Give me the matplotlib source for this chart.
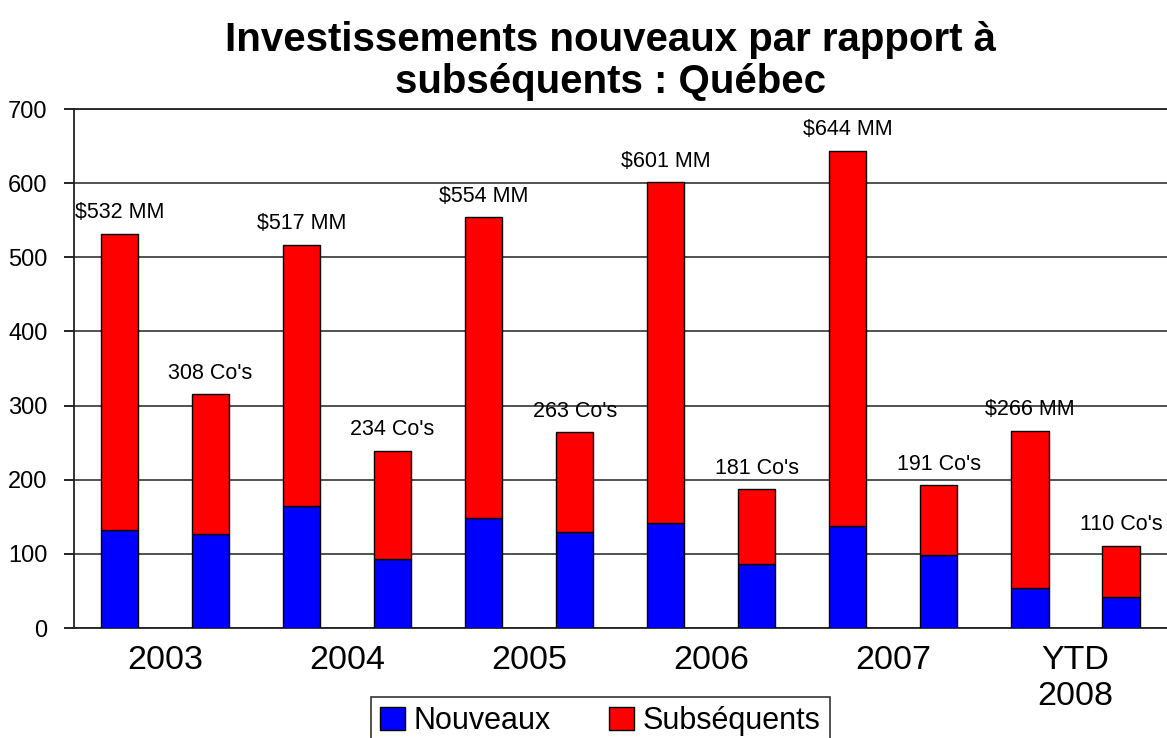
import matplotlib.pyplot as plt
import numpy as np

plt.rcParams['font.family'] = ['Liberation Sans', 'DejaVu Sans']

# one $ bar and one company-count bar per period
periods = ['2003', '2004', '2005', '2006', '2007', 'YTD\n2008']
nouveaux = [132, 127, 164, 93, 148, 129, 141, 86, 137, 98, 54, 42]
subsequents = [400, 188, 353, 146, 406, 135, 460, 101, 507, 95, 212, 69]
bar_labels = ['$532 MM', "308 Co's", '$517 MM', "234 Co's", '$554 MM', "263 Co's",
              '$601 MM', "181 Co's", '$644 MM', "191 Co's", '$266 MM', "110 Co's"]

fig = plt.figure(figsize=(11.67, 7.38), dpi=100)
ax = fig.add_axes([0.0634, 0.149, 0.94, 0.7033])

x = np.arange(len(nouveaux))
totals = np.array(nouveaux) + np.array(subsequents)

ax.bar(x, nouveaux, width=0.41, color='#0000ff', edgecolor='black', linewidth=1,
       label='Nouveaux', zorder=3)
ax.bar(x, subsequents, width=0.41, bottom=nouveaux, color='#ff0000', edgecolor='black',
       linewidth=1, label='Subséquents', zorder=3)

for xi, t, lab in zip(x, totals, bar_labels):
    ax.text(xi, t + 14, lab, ha='center', va='bottom', fontsize=15.5, clip_on=False)

ax.set_xlim(-0.5, 11.55)
ax.set_ylim(0, 700)
ax.set_yticks(range(0, 701, 100))
ax.tick_params(axis='y', labelsize=17, length=7, width=1.2, direction='out', pad=12)
ax.set_xticks(np.arange(0.5, 12, 2))
ax.set_xticklabels(periods, fontsize=24.5, linespacing=1.2)
ax.tick_params(axis='x', length=0, pad=12)

ax.grid(axis='y', color='#333333', linewidth=1.2, zorder=0)
for s in ['left', 'bottom', 'top']:
    ax.spines[s].set_color('#222222')
    ax.spines[s].set_linewidth(1.3)
ax.spines['right'].set_visible(False)

fig.text(0.523, 0.972, 'Investissements nouveaux par rapport à\nsubséquents : Québec',
         ha='center', va='top', fontsize=29, fontweight='bold', linespacing=1.15)

leg = fig.legend(loc='upper left', bbox_to_anchor=(0.318, 0.056), ncol=2, fontsize=22,
                 frameon=True, fancybox=False, edgecolor='black', handlelength=0.8,
                 handleheight=0.8, handletextpad=0.3, columnspacing=1.9,
                 borderpad=0.3, borderaxespad=0)
leg.get_frame().set_linewidth(1.2)

fig.savefig('out.png', dpi=100)
